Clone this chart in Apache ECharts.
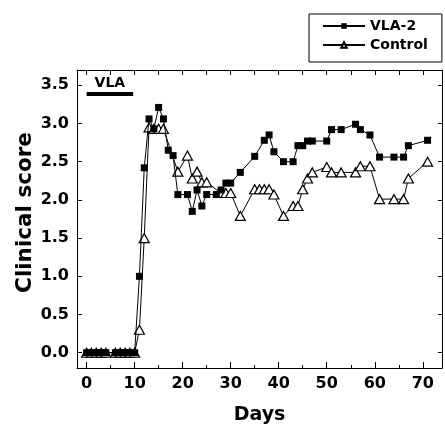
<!DOCTYPE html>
<html>
<head>
<meta charset="utf-8">
<script src="https://cdn.jsdelivr.net/npm/echarts@6/dist/echarts.min.js"></script>
<style>
  html, body { margin: 0; padding: 0; background: #fff; }
  #chart { width: 445px; height: 424px; }
</style>
</head>
<body>
<div id="chart"></div>
<script>
// 读图得到的数据
const vlaDays = [0, 1, 2, 3, 4, 6, 7, 8, 9, 10, 11, 12, 13, 14, 15, 16, 17, 18, 19, 21, 22, 23, 24, 25, 27, 28, 29, 30, 32, 35, 37, 38, 39, 41, 43, 44, 45, 46, 47, 50, 51, 53, 56, 57, 59, 61, 64, 66, 67, 71];
const vlaScores = [0, 0, 0, 0, 0, 0, 0, 0, 0, 0, 1.0, 2.42, 3.06, 2.93, 3.21, 3.06, 2.65, 2.58, 2.07, 2.07, 1.85, 2.13, 1.92, 2.07, 2.07, 2.13, 2.22, 2.22, 2.36, 2.57, 2.78, 2.85, 2.63, 2.5, 2.5, 2.71, 2.71, 2.77, 2.77, 2.77, 2.92, 2.92, 2.99, 2.92, 2.85, 2.56, 2.56, 2.56, 2.71, 2.78];
const ctrlDays = [0, 1, 2, 3, 4, 6, 7, 8, 9, 10, 11, 12, 13, 14, 15, 16, 19, 21, 22, 23, 24, 25, 28, 29, 30, 32, 35, 36, 37, 38, 39, 41, 43, 44, 45, 46, 47, 50, 51, 53, 56, 57, 59, 61, 64, 66, 67, 71];
const ctrlScores = [0, 0, 0, 0, 0, 0, 0, 0, 0, 0, 0.3, 1.5, 2.95, 2.93, 2.93, 2.93, 2.37, 2.58, 2.28, 2.37, 2.23, 2.23, 2.09, 2.09, 2.09, 1.79, 2.14, 2.14, 2.14, 2.14, 2.07, 1.79, 1.92, 1.92, 2.14, 2.28, 2.36, 2.43, 2.36, 2.36, 2.36, 2.44, 2.44, 2.01, 2.01, 2.01, 2.28, 2.5];
// VLA 给药期 (天) 和横条所在高度
const vlaPeriod = [0, 9.7];
const vlaLevel = 3.39;
// 刻度
const xTicks = [0, 10, 20, 30, 40, 50, 60, 70];
const xMinorTicks = [5, 15, 25, 35, 45, 55, 65];
const xTopTicks = [0, 5, 10, 15, 20, 25, 30, 35, 40, 45, 50, 55, 60, 65, 70];
const yTicks = [0, 0.5, 1.0, 1.5, 2.0, 2.5, 3.0, 3.5];

const FONT = 'DejaVu Sans';
const black = '#000';

function zip(xs, ys) {
  let out = [];
  for (let i = 0; i < xs.length; i++) {
    out.push([xs[i], ys[i]]);
  }
  return out;
}

let chart = echarts.init(document.getElementById('chart'), null, { renderer: 'canvas' });

let xBase = { type: 'value', min: -2, max: 74, splitLine: { show: false } };
let yBase = { type: 'value', min: -0.2, max: 3.7, splitLine: { show: false } };
// 坐标轴线不要贴到 0 上
let frameLine = { onZero: false, lineStyle: { color: black, width: 1 } };

let option = {
  backgroundColor: '#fff',
  animation: false,
  grid: { left: 77, right: 3, top: 70, bottom: 56, containLabel: false, outerBoundsMode: 'none' },
  legend: {
    data: ['VLA-2', 'Control'],
    orient: 'vertical',
    left: 309,
    top: 14,
    itemWidth: 42,
    itemHeight: 7,
    itemGap: 5,
    padding: [5, 14, 10, 13],
    borderColor: black,
    borderWidth: 1,
    textStyle: { fontFamily: FONT, fontWeight: 'bold', fontSize: 14, color: black }
  },
  xAxis: [
    Object.assign({}, xBase, {
      position: 'bottom',
      name: 'Days',
      nameLocation: 'middle',
      nameGap: 38,
      nameMoveOverlap: false,
      nameTextStyle: { fontFamily: FONT, fontWeight: 'bold', fontSize: 19, color: black },
      axisLine: frameLine,
      axisTick: { inside: true, length: 6, customValues: xTicks, lineStyle: { color: black } },
      axisLabel: {
        customValues: xTicks,
        margin: 8,
        fontFamily: FONT, fontWeight: 'bold', fontSize: 16, color: black
      }
    }),
    // 次刻度
    Object.assign({}, xBase, {
      position: 'bottom',
      axisLine: { show: false, onZero: false },
      axisTick: { inside: true, length: 3, customValues: xMinorTicks, lineStyle: { color: black } },
      axisLabel: { show: false }
    }),
    Object.assign({}, xBase, {
      position: 'top',
      axisLine: frameLine,
      axisTick: { inside: true, length: 5, customValues: xTopTicks, lineStyle: { color: black } },
      axisLabel: { show: false }
    })
  ],
  yAxis: [
    Object.assign({}, yBase, {
      position: 'left',
      name: 'Clinical score',
      nameLocation: 'middle',
      nameGap: 41,
      nameMoveOverlap: false,
      nameTextStyle: { fontFamily: FONT, fontWeight: 'bold', fontSize: 21.5, color: black, padding: [0, 0, 0, 13] },
      axisLine: frameLine,
      axisTick: { inside: true, length: 5, customValues: yTicks, lineStyle: { color: black } },
      axisLabel: {
        customValues: yTicks,
        margin: 8,
        formatter: function (v) { return v.toFixed(1); },
        fontFamily: FONT, fontWeight: 'bold', fontSize: 16, color: black
      }
    }),
    Object.assign({}, yBase, {
      position: 'right',
      axisLine: frameLine,
      axisTick: { inside: true, length: 4, customValues: yTicks, lineStyle: { color: black } },
      axisLabel: { show: false }
    })
  ],
  series: [
    {
      name: 'Control',
      type: 'line',
      data: zip(ctrlDays, ctrlScores),
      symbol: 'triangle',
      symbolSize: [10, 9],
      showAllSymbol: true,
      itemStyle: { color: '#fff', borderColor: black, borderWidth: 1.2 },
      lineStyle: { color: black, width: 1 },
      z: 2
    },
    {
      name: 'VLA-2',
      type: 'line',
      data: zip(vlaDays, vlaScores),
      symbol: 'rect',
      symbolSize: 7,
      showAllSymbol: true,
      itemStyle: { color: black },
      lineStyle: { color: black, width: 1 },
      z: 3
    },
    // VLA 给药横条
    {
      name: 'VLA',
      type: 'line',
      data: [],
      silent: true,
      markLine: {
        symbol: 'none',
        silent: true,
        data: [[{ coord: [vlaPeriod[0], vlaLevel] }, { coord: [vlaPeriod[1], vlaLevel] }]],
        lineStyle: { color: black, width: 4, type: 'solid' },
        label: {
          formatter: 'VLA',
          position: 'middle',
          distance: 3,
          fontFamily: FONT, fontWeight: 'bold', fontSize: 14, color: black
        }
      }
    }
  ]
};

chart.setOption(option);
</script>
</body>
</html>
